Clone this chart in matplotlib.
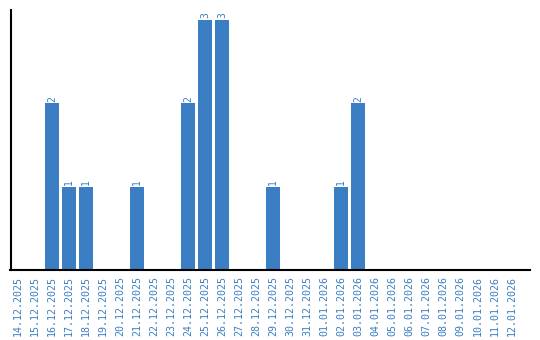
import matplotlib
matplotlib.use("Agg")
import matplotlib.pyplot as plt

dates = ["14.12.2025", "15.12.2025", "16.12.2025", "17.12.2025", "18.12.2025",
         "19.12.2025", "20.12.2025", "21.12.2025", "22.12.2025", "23.12.2025",
         "24.12.2025", "25.12.2025", "26.12.2025", "27.12.2025", "28.12.2025",
         "29.12.2025", "30.12.2025", "31.12.2025", "01.01.2026", "02.01.2026",
         "03.01.2026", "04.01.2026", "05.01.2026", "06.01.2026", "07.01.2026",
         "08.01.2026", "09.01.2026", "10.01.2026", "11.01.2026", "12.01.2026"]
counts = [0, 0, 2, 1, 1, 0, 0, 1, 0, 0,
          2, 3, 3, 0, 0, 1, 0, 0, 0, 1,
          2, 0, 0, 0, 0, 0, 0, 0, 0, 0]

blue = "#3b7ec3"

fig = plt.figure(figsize=(5.4, 3.4), dpi=100)
ax = fig.add_axes([10.5 / 540, 70 / 340, 519.5 / 540, 260 / 340])

x = list(range(len(dates)))
ax.bar(x, counts, width=0.82, color=blue)
for xi, c in zip(x, counts):
    if c > 0:
        ax.text(xi, c + 0.02, str(c), rotation=90, ha="center", va="bottom",
                fontsize=7, color=blue, family="DejaVu Sans Mono")

ax.set_xlim(-0.45, 30.1)
ax.set_ylim(0, 3.12)
ax.set_xticks(x)
ax.set_xticklabels(dates, rotation=90, fontsize=7.2, color=blue,
                   family="DejaVu Sans Mono")
ax.tick_params(axis="x", length=0, pad=4)
ax.set_yticks([])
ax.spines["top"].set_visible(False)
ax.spines["right"].set_visible(False)
ax.spines["left"].set_linewidth(1.5)
ax.spines["bottom"].set_linewidth(1.5)

fig.savefig("out.png", dpi=100)
